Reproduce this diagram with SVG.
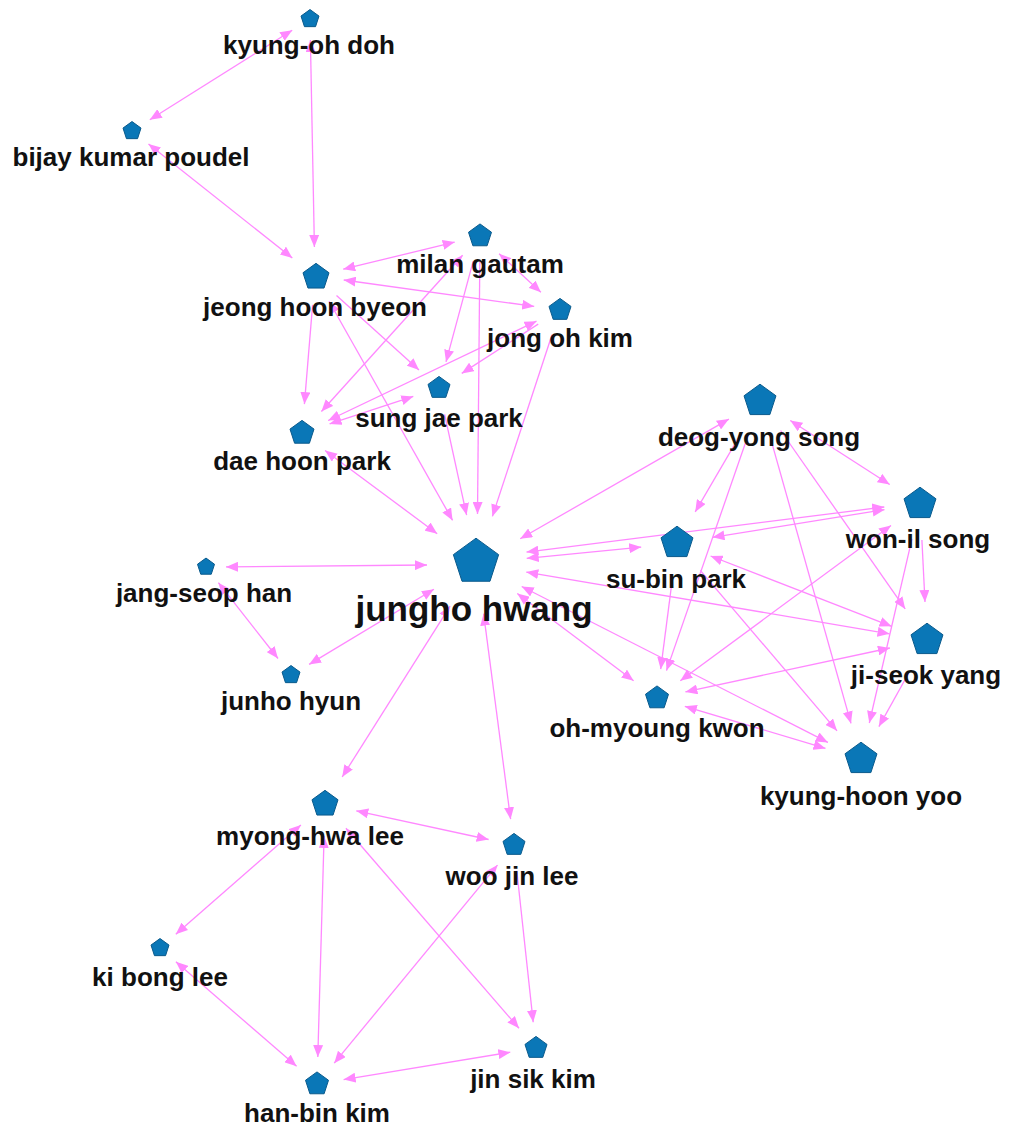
<svg xmlns="http://www.w3.org/2000/svg" xmlns:xlink="http://www.w3.org/1999/xlink" width="1010" height="1129" viewBox="0 0 1010 1129">
<style>
.e{stroke:#ff88ff;stroke-width:1.3;fill:none;marker-end:url(#ah)}
.b{marker-start:url(#ah)}
.p{fill:#0a77b7;stroke:#0a5a8c;stroke-width:1}
.t{font-family:"Liberation Sans",Arial,sans-serif;font-weight:bold;font-size:26px;fill:#111;text-anchor:middle}
.big{font-size:35px}
</style>
<defs>
<marker id="ah" viewBox="0 0 12 10" refX="12" refY="5" markerWidth="12" markerHeight="10" markerUnits="userSpaceOnUse" orient="auto-start-reverse"><path d="M0,0 L12,5 L0,10 z" fill="#ff88ff"/></marker>
<polygon id="pg" points="0,-1 0.951,-0.309 0.588,0.809 -0.588,0.809 -0.951,-0.309" vector-effect="non-scaling-stroke"/>
</defs>
<rect width="1010" height="1129" fill="#fff"/>
<g id="edges">
<line class="e b" x1="292.2" y1="30.2" x2="149.8" y2="119.8"/>
<line class="e b" x1="310.4" y1="40" x2="314.4" y2="247"/>
<line class="e b" x1="148.5" y1="144" x2="292.3" y2="258"/>
<line class="e b" x1="343.2" y1="269.2" x2="454.7" y2="242.1"/>
<line class="e b" x1="343.7" y1="280" x2="534.2" y2="306.4"/>
<line class="e" x1="312.6" y1="304.9" x2="304.4" y2="404.1"/>
<line class="e" x1="336.5" y1="295.4" x2="419" y2="369.9"/>
<line class="e b" x1="329.1" y1="301.3" x2="452.6" y2="520.4"/>
<line class="e b" x1="499.1" y1="253.7" x2="540.9" y2="292.3"/>
<line class="e b" x1="321.4" y1="411.5" x2="462.6" y2="255.3"/>
<line class="e" x1="473.2" y1="261.1" x2="446" y2="361.9"/>
<line class="e" x1="479.8" y1="262" x2="477.5" y2="514"/>
<line class="e b" x1="536.5" y1="321.2" x2="328.2" y2="420.5"/>
<line class="e" x1="538.2" y1="324.1" x2="461.7" y2="373.4"/>
<line class="e" x1="552" y1="334.7" x2="492.4" y2="516.4"/>
<line class="e b" x1="413.3" y1="396.4" x2="329.6" y2="423.9"/>
<line class="e" x1="444.6" y1="414.4" x2="466.6" y2="515.1"/>
<line class="e b" x1="325.1" y1="450.5" x2="437.2" y2="533.7"/>
<line class="e b" x1="226" y1="566.9" x2="427" y2="565"/>
<line class="e b" x1="218.4" y1="582.7" x2="278" y2="658.5"/>
<line class="e b" x1="433.9" y1="589.3" x2="309.1" y2="664.4"/>
<line class="e b" x1="450.1" y1="606.1" x2="342.2" y2="777"/>
<line class="e b" x1="483.6" y1="613.6" x2="510.6" y2="819.2"/>
<line class="e b" x1="520.2" y1="538.8" x2="728.9" y2="419.1"/>
<line class="e b" x1="526.7" y1="558.3" x2="641.2" y2="547.1"/>
<line class="e b" x1="526.5" y1="552.1" x2="884.3" y2="507"/>
<line class="e b" x1="526.3" y1="572.1" x2="889.5" y2="633.8"/>
<line class="e b" x1="517.3" y1="593.6" x2="633.6" y2="680.8"/>
<line class="e b" x1="521.7" y1="586.5" x2="827.9" y2="742.4"/>
<line class="e b" x1="790.3" y1="420.5" x2="889.7" y2="484.5"/>
<line class="e" x1="741.8" y1="432.1" x2="695.2" y2="511.9"/>
<line class="e" x1="748.2" y1="435" x2="666.5" y2="670.6"/>
<line class="e" x1="769.8" y1="435.6" x2="851" y2="723.4"/>
<line class="e" x1="780.6" y1="430.5" x2="905.2" y2="608.9"/>
<line class="e b" x1="884.5" y1="509.7" x2="712.5" y2="537.3"/>
<line class="e b" x1="891" y1="525.4" x2="680.3" y2="680.8"/>
<line class="e" x1="921.9" y1="540" x2="925" y2="602"/>
<line class="e" x1="911.9" y1="539.1" x2="869.3" y2="723"/>
<line class="e" x1="672.4" y1="578.7" x2="660.7" y2="669.2"/>
<line class="e" x1="700.3" y1="570.4" x2="837" y2="730.8"/>
<line class="e b" x1="710.6" y1="556" x2="891.6" y2="626.3"/>
<line class="e b" x1="889.9" y1="648" x2="685.4" y2="691.9"/>
<line class="e" x1="908.6" y1="673.2" x2="878.9" y2="726.6"/>
<line class="e b" x1="684.8" y1="706.3" x2="825.5" y2="748.4"/>
<line class="e b" x1="356.3" y1="810.8" x2="488.6" y2="839.5"/>
<line class="e b" x1="300.9" y1="825" x2="175.8" y2="934.2"/>
<line class="e b" x1="324.1" y1="836" x2="317.8" y2="1057"/>
<line class="e b" x1="345.9" y1="828.2" x2="519" y2="1028.3"/>
<line class="e b" x1="497.5" y1="865.1" x2="334.2" y2="1063.2"/>
<line class="e" x1="516.8" y1="870.8" x2="533.2" y2="1022.2"/>
<line class="e b" x1="175.9" y1="961.8" x2="296.6" y2="1066.3"/>
<line class="e b" x1="510.3" y1="1052.2" x2="343.6" y2="1079.6"/>
</g>
<g id="n-kyung-oh-doh"><use href="#pg" class="p" transform="translate(310,19) scale(9.46)"/><text class="t" x="309" y="54">kyung-oh doh</text></g>
<g id="n-bijay-kumar-poudel"><use href="#pg" class="p" transform="translate(132,131) scale(9.46)"/><text class="t" x="131" y="166">bijay kumar poudel</text></g>
<g id="n-jeong-hoon-byeon"><use href="#pg" class="p" transform="translate(316,277) scale(13.67)"/><text class="t" x="315" y="316">jeong hoon byeon</text></g>
<g id="n-milan-gautam"><use href="#pg" class="p" transform="translate(480,236) scale(12.09)"/><text class="t" x="480" y="273">milan gautam</text></g>
<g id="n-jong-oh-kim"><use href="#pg" class="p" transform="translate(560,310) scale(11.57)"/><text class="t" x="560" y="347">jong oh kim</text></g>
<g id="n-sung-jae-park"><use href="#pg" class="p" transform="translate(439,388) scale(11.57)"/><text class="t" x="439" y="427">sung jae park</text></g>
<g id="n-dae-hoon-park"><use href="#pg" class="p" transform="translate(302,433) scale(12.62)"/><text class="t" x="302" y="470">dae hoon park</text></g>
<g id="n-jungho-hwang"><use href="#pg" class="p" transform="translate(476,562) scale(23.8)"/><text class="t big" x="474" y="621">jungho hwang</text></g>
<g id="n-jang-seop-han"><use href="#pg" class="p" transform="translate(206,567) scale(8.94)"/><text class="t" x="204" y="602">jang-seop han</text></g>
<g id="n-junho-hyun"><use href="#pg" class="p" transform="translate(291,675) scale(9.46)"/><text class="t" x="291" y="710">junho hyun</text></g>
<g id="n-deog-yong-song"><use href="#pg" class="p" transform="translate(760,401) scale(16.8)"/><text class="t" x="759" y="446">deog-yong song</text></g>
<g id="n-won-il-song"><use href="#pg" class="p" transform="translate(920,504) scale(16.8)"/><text class="t" x="918" y="548">won-il song</text></g>
<g id="n-su-bin-park"><use href="#pg" class="p" transform="translate(677,543) scale(16.8)"/><text class="t" x="676" y="588">su-bin park</text></g>
<g id="n-ji-seok-yang"><use href="#pg" class="p" transform="translate(927,640) scale(16.8)"/><text class="t" x="926" y="684">ji-seok yang</text></g>
<g id="n-oh-myoung-kwon"><use href="#pg" class="p" transform="translate(657,698) scale(12.09)"/><text class="t" x="657" y="737">oh-myoung kwon</text></g>
<g id="n-kyung-hoon-yoo"><use href="#pg" class="p" transform="translate(861,759) scale(16.8)"/><text class="t" x="861" y="805">kyung-hoon yoo</text></g>
<g id="n-myong-hwa-lee"><use href="#pg" class="p" transform="translate(325,804) scale(13.67)"/><text class="t" x="310" y="845">myong-hwa lee</text></g>
<g id="n-woo-jin-lee"><use href="#pg" class="p" transform="translate(514,845) scale(11.57)"/><text class="t" x="512" y="885">woo jin lee</text></g>
<g id="n-ki-bong-lee"><use href="#pg" class="p" transform="translate(160,948) scale(9.46)"/><text class="t" x="160" y="986">ki bong lee</text></g>
<g id="n-jin-sik-kim"><use href="#pg" class="p" transform="translate(536,1048) scale(11.57)"/><text class="t" x="533" y="1088">jin sik kim</text></g>
<g id="n-han-bin-kim"><use href="#pg" class="p" transform="translate(317,1084) scale(12.09)"/><text class="t" x="317" y="1122">han-bin kim</text></g>
</svg>
